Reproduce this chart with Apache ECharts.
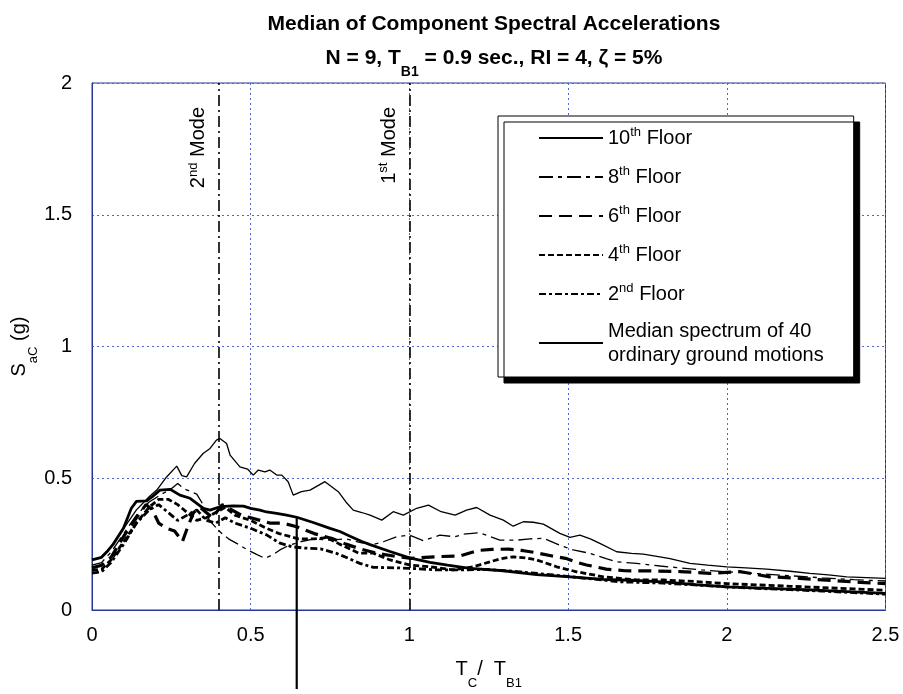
<!DOCTYPE html>
<html>
<head>
<meta charset="utf-8">
<script src="https://cdn.jsdelivr.net/npm/echarts@6/dist/echarts.min.js"></script>
<style>
  html, body { margin: 0; padding: 0; background: #fff; }
  #chart { width: 903px; height: 694px; }
</style>
</head>
<body>
<div id="chart"></div>
<script>
// Normalised period T_C / T_B1 against median component spectral acceleration (g)
const floor10 = [[0,0.19],[0.03,0.2],[0.06,0.24],[0.1,0.31],[0.14,0.38],[0.18,0.43],[0.204,0.455],[0.235,0.505],[0.267,0.546],[0.283,0.51],[0.298,0.505],[0.323,0.556],[0.35,0.594],[0.372,0.613],[0.392,0.645],[0.403,0.651],[0.424,0.632],[0.435,0.588],[0.466,0.543],[0.49,0.535],[0.508,0.512],[0.524,0.531],[0.545,0.524],[0.56,0.531],[0.582,0.512],[0.598,0.512],[0.618,0.487],[0.634,0.436],[0.66,0.449],[0.687,0.455],[0.734,0.487],[0.776,0.449],[0.80,0.41],[0.823,0.379],[0.85,0.37],[0.876,0.36],[0.913,0.341],[0.949,0.373],[0.981,0.36],[1.023,0.386],[1.06,0.398],[1.10,0.373],[1.144,0.36],[1.18,0.379],[1.212,0.389],[1.254,0.36],[1.296,0.341],[1.327,0.318],[1.359,0.335],[1.39,0.333],[1.422,0.326],[1.474,0.291],[1.506,0.276],[1.537,0.284],[1.57,0.27],[1.60,0.253],[1.653,0.221],[1.70,0.215],[1.737,0.212],[1.789,0.202],[1.821,0.195],[1.884,0.177],[1.94,0.17],[2.0,0.164],[2.06,0.16],[2.126,0.155],[2.2,0.147],[2.262,0.139],[2.32,0.133],[2.378,0.126],[2.44,0.123],[2.5,0.12]];

const floor8 = [[0,0.17],[0.03,0.18],[0.06,0.22],[0.1,0.29],[0.14,0.36],[0.18,0.41],[0.22,0.44],[0.25,0.46],[0.27,0.48],[0.29,0.46],[0.31,0.45],[0.33,0.44],[0.35,0.40],[0.37,0.34],[0.40,0.30],[0.43,0.27],[0.46,0.25],[0.49,0.228],[0.52,0.21],[0.545,0.196],[0.57,0.21],[0.592,0.228],[0.62,0.245],[0.66,0.26],[0.70,0.27],[0.75,0.265],[0.80,0.27],[0.85,0.255],[0.89,0.25],[0.918,0.259],[0.96,0.278],[1.0,0.284],[1.044,0.263],[1.096,0.284],[1.144,0.278],[1.17,0.288],[1.222,0.293],[1.285,0.265],[1.338,0.265],[1.38,0.27],[1.422,0.272],[1.474,0.246],[1.516,0.228],[1.569,0.215],[1.62,0.195],[1.653,0.183],[1.716,0.177],[1.79,0.167],[1.85,0.16],[1.92,0.152],[2.0,0.145],[2.1,0.138],[2.2,0.13],[2.3,0.122],[2.4,0.115],[2.5,0.11]];

const floor6 = [[0,0.16],[0.03,0.17],[0.06,0.2],[0.1,0.28],[0.14,0.35],[0.17,0.40],[0.19,0.38],[0.21,0.33],[0.235,0.31],[0.26,0.30],[0.285,0.26],[0.30,0.31],[0.32,0.37],[0.34,0.39],[0.36,0.37],[0.38,0.35],[0.41,0.40],[0.44,0.38],[0.47,0.36],[0.5,0.35],[0.53,0.34],[0.56,0.33],[0.6,0.33],[0.645,0.316],[0.7,0.29],[0.76,0.27],[0.8,0.25],[0.85,0.23],[0.9,0.215],[0.95,0.205],[1.007,0.196],[1.05,0.2],[1.1,0.203],[1.16,0.205],[1.217,0.226],[1.26,0.23],[1.312,0.231],[1.36,0.225],[1.401,0.217],[1.45,0.205],[1.492,0.196],[1.53,0.18],[1.558,0.171],[1.62,0.155],[1.679,0.149],[1.774,0.148],[1.853,0.146],[1.947,0.139],[2.04,0.146],[2.136,0.126],[2.23,0.12],[2.33,0.112],[2.42,0.105],[2.5,0.1]];

const floor4 = [[0,0.15],[0.03,0.155],[0.06,0.19],[0.1,0.26],[0.14,0.33],[0.18,0.39],[0.21,0.42],[0.24,0.42],[0.27,0.40],[0.3,0.37],[0.33,0.34],[0.36,0.35],[0.39,0.37],[0.42,0.39],[0.45,0.36],[0.5,0.34],[0.55,0.31],[0.59,0.29],[0.62,0.28],[0.65,0.27],[0.7,0.27],[0.74,0.275],[0.78,0.25],[0.84,0.216],[0.886,0.216],[0.939,0.19],[1.0,0.171],[1.065,0.164],[1.138,0.152],[1.201,0.164],[1.254,0.183],[1.29,0.195],[1.327,0.202],[1.365,0.198],[1.401,0.19],[1.464,0.164],[1.527,0.145],[1.611,0.126],[1.716,0.114],[1.8,0.114],[1.9,0.108],[2.0,0.1],[2.1,0.095],[2.2,0.09],[2.3,0.085],[2.4,0.08],[2.5,0.075]];

const floor2 = [[0,0.14],[0.03,0.145],[0.06,0.18],[0.1,0.25],[0.14,0.33],[0.18,0.38],[0.21,0.40],[0.24,0.37],[0.27,0.34],[0.3,0.36],[0.33,0.38],[0.36,0.34],[0.39,0.33],[0.42,0.35],[0.45,0.33],[0.5,0.31],[0.55,0.285],[0.59,0.255],[0.63,0.24],[0.67,0.235],[0.72,0.232],[0.77,0.215],[0.8,0.2],[0.844,0.177],[0.886,0.162],[0.96,0.16],[1.023,0.157],[1.086,0.152],[1.138,0.152],[1.244,0.154],[1.348,0.145],[1.453,0.133],[1.558,0.12],[1.663,0.107],[1.8,0.102],[1.9,0.095],[2.0,0.088],[2.1,0.082],[2.2,0.077],[2.3,0.072],[2.4,0.066],[2.5,0.06]];

const groundMedian = [[0,0.19],[0.03,0.2],[0.05,0.225],[0.067,0.25],[0.099,0.31],[0.124,0.386],[0.14,0.412],[0.172,0.414],[0.19,0.43],[0.214,0.455],[0.246,0.458],[0.277,0.436],[0.309,0.424],[0.33,0.405],[0.351,0.386],[0.372,0.379],[0.403,0.392],[0.445,0.395],[0.477,0.394],[0.5,0.386],[0.529,0.379],[0.55,0.372],[0.582,0.367],[0.613,0.36],[0.645,0.352],[0.697,0.332],[0.75,0.31],[0.781,0.298],[0.813,0.28],[0.85,0.26],[0.876,0.248],[0.939,0.222],[1.0,0.198],[1.065,0.181],[1.12,0.17],[1.19,0.158],[1.296,0.149],[1.401,0.134],[1.506,0.126],[1.611,0.116],[1.716,0.112],[1.821,0.105],[1.9,0.096],[2.0,0.088],[2.13,0.082],[2.262,0.076],[2.38,0.07],[2.5,0.063]];

// Modal periods (normalised) and the pointer drawn at T = 0.645
const modePeriods = [0.4, 1.0];
const modeLabels = ['{t|2}{sup|nd}{t| Mode}', '{t|1}{sup|st}{t| Mode}'];
const pointerT = 0.645;
const pointerRange = [0.352, -0.30];

const xTicks = [0, 0.5, 1, 1.5, 2, 2.5];
const yTicks = [0, 0.5, 1, 1.5, 2];

const seriesNames = ['10th Floor', '8th Floor', '6th Floor', '4th Floor', '2nd Floor', 'Median spectrum of 40 ordinary ground motions'];
const legendText = {
  '10th Floor': '{t|10}{sup|th}{t| Floor}',
  '8th Floor': '{t|8}{sup|th}{t| Floor}',
  '6th Floor': '{t|6}{sup|th}{t| Floor}',
  '4th Floor': '{t|4}{sup|th}{t| Floor}',
  '2nd Floor': '{t|2}{sup|nd}{t| Floor}',
  'Median spectrum of 40 ordinary ground motions': '{t|Median spectrum of 40}\n{t|ordinary ground motions}'
};

const FONT = '"Liberation Sans", Arial, sans-serif';
const AXIS_BLUE = '#24389a';
const GRID_BLUE = '#5566c8';

const supRich = {
  t: { fontFamily: FONT, fontSize: 20, color: '#000', lineHeight: 24 },
  sup: { fontFamily: FONT, fontSize: 13, color: '#000', verticalAlign: 'top', lineHeight: 12 }
};
const subRich = {
  s: { fontFamily: FONT, fontSize: 20, color: '#000', lineHeight: 26 },
  sub: { fontFamily: FONT, fontSize: 13, color: '#000', verticalAlign: 'bottom', lineHeight: 26, padding: [0, 0, -8, 0] }
};

function lineSeries(name, data, width, type) {
  return {
    name: name, type: 'line', data: data, symbol: 'none', smooth: false,
    color: '#000',
    lineStyle: { color: '#000', width: width, type: type },
    z: 3
  };
}

const chart = echarts.init(document.getElementById('chart'), null, { renderer: 'canvas' });

const option = {
  animation: false,
  backgroundColor: '#fff',
  title: {
    left: 489, top: 2, textAlign: 'center',
    text: '{b|Median of Component Spectral Accelerations}\n{b|N = 9, T}{bs|B1}{b| = 0.9 sec., RI = 4, ζ = 5%}',
    textStyle: {
      rich: {
        b: { fontFamily: FONT, fontWeight: 'bold', fontSize: 21, color: '#000', lineHeight: 34 },
        bs: { fontFamily: FONT, fontWeight: 'bold', fontSize: 14, color: '#000', verticalAlign: 'bottom', lineHeight: 34, padding: [0, 0, -4, 0] }
      }
    }
  },
  grid: {
    left: 92, top: 83, right: 17.5, bottom: 84,
    outerBoundsMode: 'none', containLabel: false,
    show: true, borderColor: AXIS_BLUE, borderWidth: 1, backgroundColor: '#fff'
  },
  legend: {
    data: seriesNames,
    orient: 'vertical',
    left: 498, top: 116,
    itemWidth: 64, itemHeight: 14, itemGap: 17,
    padding: [10, 30, 12, 40],
    backgroundColor: '#fff',
    borderColor: '#000', borderWidth: 1,
    shadowColor: '#000', shadowBlur: 0, shadowOffsetX: 6, shadowOffsetY: 6,
    itemStyle: { opacity: 0 },
    formatter: function (n) { return legendText[n]; },
    textStyle: { color: '#000', rich: supRich },
    selectedMode: false
  },
  xAxis: {
    type: 'value', min: 0, max: 2.5, interval: 0.5,
    axisLine: { show: true, lineStyle: { color: AXIS_BLUE, width: 1 } },
    axisTick: { show: false },
    axisLabel: { color: '#000', fontFamily: FONT, fontSize: 20, margin: 15,
      formatter: function (v) { return xTicks.indexOf(v) >= 0 ? String(v) : ''; } },
    splitLine: { show: true, lineStyle: { color: GRID_BLUE, width: 1, type: [2, 3] } },
    name: '{s|T}{sub|C}{s|/  T}{sub|B1}',
    nameLocation: 'middle', nameGap: 46,
    nameTextStyle: { rich: subRich }
  },
  yAxis: {
    type: 'value', min: 0, max: 2, interval: 0.5,
    axisLine: { show: true, lineStyle: { color: AXIS_BLUE, width: 1 } },
    axisTick: { show: false },
    axisLabel: { color: '#000', fontFamily: FONT, fontSize: 20, margin: 20,
      formatter: function (v) { return yTicks.indexOf(v) >= 0 ? String(v) : ''; } },
    splitLine: { show: true, lineStyle: { color: GRID_BLUE, width: 1, type: [2, 3] } },
    name: '{s|S}{sub|aC}{s| (g)}',
    nameLocation: 'middle', nameGap: 60, nameRotate: 90, nameMoveOverlap: false,
    nameTextStyle: { rich: subRich }
  },
  series: [
    lineSeries(seriesNames[0], floor10, 1.3, 'solid'),
    lineSeries(seriesNames[1], floor8, 1.3, [14, 5, 4, 5]),
    lineSeries(seriesNames[2], floor6, 3.2, [13, 7]),
    lineSeries(seriesNames[3], floor4, 2.8, [6, 3]),
    lineSeries(seriesNames[4], floor2, 2.8, [7, 3, 3, 3]),
    lineSeries(seriesNames[5], groundMedian, 2.8, 'solid'),
    {
      name: 'modes', type: 'line', data: [], symbol: 'none', silent: true,
      markLine: {
        silent: true, symbol: ['none', 'none'], animation: false,
        lineStyle: { color: '#000', width: 1.6, type: [11, 4, 2, 4] },
        label: {
          show: true, position: 'insideEndTop', distance: [24, 8],
          formatter: function (p) { return modeLabels[p.dataIndex]; },
          rich: supRich
        },
        data: modePeriods.map(function (t) { return { xAxis: t }; })
      },
      z: 2
    },
    {
      name: 'pointer', type: 'line', symbol: 'none', silent: true, clip: false,
      data: [[pointerT, pointerRange[0]], [pointerT, pointerRange[1]]],
      lineStyle: { color: '#000', width: 2.2 },
      z: 4
    }
  ]
};

chart.setOption(option);
</script>
</body>
</html>
